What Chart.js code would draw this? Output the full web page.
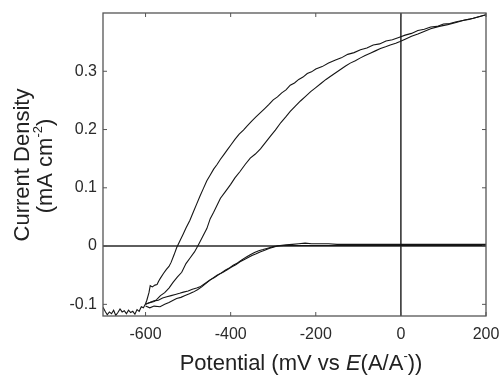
<!DOCTYPE html>
<html>
<head>
<meta charset="utf-8">
<script src="https://cdn.jsdelivr.net/npm/chart.js@4"></script>
<style>
  html, body { margin: 0; padding: 0; background: #fff; }
  #wrap { width: 503px; height: 376px; }
</style>
</head>
<body>
<div id="wrap"><canvas id="cvChart" width="503" height="376"></canvas></div>
<script>
// tick labels
const xTicks = [-600, -400, -200, 0, 200];
const yTicks = [-0.1, 0, 0.1, 0.2, 0.3];

// outer branch of the upper loop (with the noisy baseline at the far left)
const u1Potential = [-700, -695, -690, -685, -680, -675, -670, -665, -660, -655, -650, -645, -640, -635, -630, -625, -620, -615, -610, -605,
  -600, -597, -592, -589, -584, -578, -573, -569, -565, -558, -551, -545, -540, -533, -527, -520, -512, -505, -496, -488, -480, -472, -464,
  -456, -448, -440, -432, -424, -416, -408, -400, -390, -380, -370, -360, -350, -340, -330, -320, -310, -300, -290, -280, -270, -260, -250,
  -240, -230, -220, -210, -200, -185, -170, -155, -140, -125, -110, -95, -80, -65, -50, -35, -20, -5, 10, 25, 40, 55, 70, 85, 100,
  115, 130, 145, 160, 175, 190, 200];
const u1Current = [-0.105, -0.112, -0.118, -0.113, -0.116, -0.110, -0.119, -0.114, -0.108, -0.113, -0.111, -0.116, -0.110, -0.114, -0.112, -0.117, -0.109, -0.112, -0.104, -0.106,
  -0.099, -0.093, -0.080, -0.068, -0.070, -0.067, -0.066, -0.060, -0.055, -0.047, -0.040, -0.035, -0.028, -0.015, -0.003, 0.008, 0.020, 0.031, 0.044, 0.058, 0.072, 0.086, 0.099,
  0.112, 0.122, 0.132, 0.140, 0.149, 0.157, 0.165, 0.173, 0.183, 0.192, 0.199, 0.207, 0.215, 0.222, 0.229, 0.236, 0.243, 0.251, 0.256, 0.263, 0.268, 0.276, 0.280,
  0.286, 0.290, 0.296, 0.299, 0.304, 0.308, 0.314, 0.319, 0.323, 0.329, 0.332, 0.337, 0.340, 0.345, 0.347, 0.352, 0.354, 0.358, 0.362, 0.365, 0.370, 0.372, 0.376, 0.377, 0.381,
  0.382, 0.385, 0.387, 0.389, 0.392, 0.395, 0.397];

// inner branch of the upper loop
const u2Potential = [-600, -590, -580, -574, -565, -555, -545, -535, -525, -515, -505, -495, -485, -476, -466, -456, -448, -440, -432, -424,
  -412, -400, -390, -378, -366, -354, -342, -330, -318, -306, -295, -282, -270, -260, -248, -236, -224, -212, -200, -188, -176, -166,
  -154, -142, -130, -119, -107, -95, -84, -72, -60, -48, -36, -25, -12, -2, 10, 25, 40, 53, 70, 90, 110, 132, 150, 170, 185, 200];
const u2Current = [-0.100, -0.097, -0.095, -0.092, -0.085, -0.080, -0.072, -0.062, -0.053, -0.045, -0.030, -0.020, -0.010, 0.002, 0.016, 0.030, 0.047, 0.058, 0.070, 0.082,
  0.094, 0.106, 0.117, 0.128, 0.140, 0.151, 0.158, 0.167, 0.178, 0.189, 0.199, 0.212, 0.222, 0.231, 0.240, 0.249, 0.257, 0.265, 0.272, 0.279, 0.286, 0.291,
  0.297, 0.303, 0.309, 0.314, 0.318, 0.323, 0.327, 0.331, 0.335, 0.339, 0.342, 0.345, 0.348, 0.351, 0.355, 0.360, 0.364, 0.368, 0.373, 0.377, 0.380, 0.384, 0.388, 0.391, 0.394, 0.397];

// lower loop, upper branch
const l1Potential = [-600, -590, -580, -570, -560, -550, -540, -530, -520, -511, -500, -490, -480, -472, -462, -452, -442, -432, -422, -412,
  -402, -394, -384, -374, -364, -354, -344, -334, -324, -315, -300, -284, -270, -255, -240, -225, -210, -190, -170, -150, -120, -90,
  -60, -30, 0, 50, 100, 150, 200];
const l1Current = [-0.100, -0.097, -0.094, -0.093, -0.089, -0.087, -0.085, -0.083, -0.081, -0.079, -0.077, -0.074, -0.072, -0.070, -0.065, -0.060, -0.055, -0.050, -0.046, -0.041,
  -0.037, -0.033, -0.029, -0.024, -0.019, -0.015, -0.011, -0.008, -0.006, -0.004, -0.001, 0.001, 0.002, 0.003, 0.004, 0.005, 0.004, 0.004, 0.004, 0.003, 0.003, 0.003,
  0.003, 0.003, 0.003, 0.003, 0.003, 0.003, 0.003];

// lower loop, lower branch
const l2Potential = [-600, -590, -580, -566, -555, -545, -535, -527, -517, -507, -497, -488, -478, -468, -458, -448, -438, -428, -418, -409,
  -398, -388, -378, -370, -360, -350, -340, -331, -320, -310, -300, -290, -275, -250, -200, -100, 0, 100, 200];
const l2Current = [-0.103, -0.106, -0.103, -0.104, -0.100, -0.097, -0.093, -0.090, -0.088, -0.085, -0.082, -0.079, -0.075, -0.070, -0.064, -0.058, -0.054, -0.049, -0.045, -0.041,
  -0.036, -0.032, -0.027, -0.024, -0.020, -0.016, -0.013, -0.010, -0.007, -0.004, -0.002, 0.000, 0.001, 0.001, 0.001, 0.001, 0.001, 0.001, 0.001];

const FONT = '"Liberation Sans", Arial, sans-serif';

function pairs(xs, ys) {
  return xs.map((x, i) => ({ x: x, y: ys[i] }));
}

function curve(xs, ys) {
  return {
    data: pairs(xs, ys),
    showLine: true,
    borderColor: '#151515',
    borderWidth: 1.1,
    pointRadius: 0,
    tension: 0
  };
}

// zero lines, frame with inward ticks, and axis titles
const framePlugin = {
  id: 'framePlugin',
  beforeDatasetsDraw(chart) {
    const { ctx, chartArea: a, scales } = chart;
    const x0 = scales.x.getPixelForValue(0);
    const y0 = scales.y.getPixelForValue(0);
    ctx.save();
    ctx.strokeStyle = '#2a2a2a';
    ctx.lineWidth = 1.5;
    ctx.beginPath();
    ctx.moveTo(a.left, y0);
    ctx.lineTo(a.right, y0);
    ctx.moveTo(x0, a.top);
    ctx.lineTo(x0, a.bottom);
    ctx.stroke();
    ctx.restore();
  },
  afterDatasetsDraw(chart) {
    const { ctx, chartArea: a, scales } = chart;
    ctx.save();
    ctx.strokeStyle = '#555';
    ctx.lineWidth = 1.3;
    ctx.strokeRect(a.left, a.top, a.right - a.left, a.bottom - a.top);
    ctx.lineWidth = 1;
    ctx.beginPath();
    xTicks.forEach(v => {
      const px = scales.x.getPixelForValue(v);
      ctx.moveTo(px, a.bottom);
      ctx.lineTo(px, a.bottom - 4);
      ctx.moveTo(px, a.top);
      ctx.lineTo(px, a.top + 4);
    });
    yTicks.forEach(v => {
      const py = scales.y.getPixelForValue(v);
      ctx.moveTo(a.left, py);
      ctx.lineTo(a.left + 4, py);
      ctx.moveTo(a.right, py);
      ctx.lineTo(a.right - 4, py);
    });
    ctx.stroke();
    ctx.restore();
  },
  afterDraw(chart) {
    const ctx = chart.ctx;
    ctx.save();
    ctx.fillStyle = '#222';
    ctx.textBaseline = 'alphabetic';

    // x title, with italic E and superscript minus
    const parts = [
      { t: 'Potential (mV vs ', f: '22px ' + FONT, dy: 0 },
      { t: 'E', f: 'italic 22px ' + FONT, dy: 0 },
      { t: '(A/A', f: '22px ' + FONT, dy: 0 },
      { t: '-', f: '13px ' + FONT, dy: -10 },
      { t: '))', f: '22px ' + FONT, dy: 0 }
    ];
    let total = 0;
    parts.forEach(p => { ctx.font = p.f; p.w = ctx.measureText(p.t).width; total += p.w; });
    let x = 301 - total / 2;
    parts.forEach(p => {
      ctx.font = p.f;
      ctx.fillText(p.t, x, 370 + p.dy);
      x += p.w;
    });

    // y title, two lines rotated
    ctx.save();
    ctx.translate(29, 165);
    ctx.rotate(-Math.PI / 2);
    ctx.textAlign = 'center';
    ctx.font = '22px ' + FONT;
    ctx.fillText('Current Density', 0, 0);
    ctx.restore();

    ctx.save();
    ctx.translate(52, 166);
    ctx.rotate(-Math.PI / 2);
    const yparts = [
      { t: '(mA cm', f: '22px ' + FONT, dy: 0 },
      { t: '-2', f: '13px ' + FONT, dy: -10 },
      { t: ')', f: '22px ' + FONT, dy: 0 }
    ];
    let yt = 0;
    yparts.forEach(p => { ctx.font = p.f; p.w = ctx.measureText(p.t).width; yt += p.w; });
    let yx = -yt / 2;
    yparts.forEach(p => {
      ctx.font = p.f;
      ctx.fillText(p.t, yx, p.dy);
      yx += p.w;
    });
    ctx.restore();
    ctx.restore();
  }
};

const ctx = document.getElementById('cvChart').getContext('2d');
new Chart(ctx, {
  type: 'scatter',
  data: {
    datasets: [
      curve(u1Potential, u1Current),
      curve(u2Potential, u2Current),
      curve(l1Potential, l1Current),
      curve(l2Potential, l2Current)
    ]
  },
  options: {
    responsive: false,
    animation: false,
    layout: { padding: { left: 0, top: 13, right: 17, bottom: 0 } },
    plugins: {
      legend: { display: false },
      tooltip: { enabled: false }
    },
    scales: {
      x: {
        type: 'linear',
        min: -700,
        max: 200,
        grid: { display: false, drawTicks: false },
        border: { display: false },
        afterBuildTicks: scale => { scale.ticks = xTicks.map(v => ({ value: v })); },
        afterFit: scale => {
          scale.height = 60;
          scale.paddingLeft = 0;
          scale.paddingRight = 0;
        },
        ticks: {
          padding: 9,
          color: '#2a2a2a',
          font: { family: FONT, size: 16 },
          maxRotation: 0,
          callback: v => String(v)
        }
      },
      y: {
        type: 'linear',
        min: -0.12,
        max: 0.4,
        grid: { display: false, drawTicks: false },
        border: { display: false },
        afterBuildTicks: scale => { scale.ticks = yTicks.map(v => ({ value: v })); },
        afterFit: scale => {
          scale.width = 103;
          scale.paddingTop = 0;
          scale.paddingBottom = 0;
        },
        ticks: {
          padding: 6,
          color: '#2a2a2a',
          font: { family: FONT, size: 16 },
          callback: v => (v === 0 ? '0' : String(Math.round(v * 10) / 10))
        }
      }
    }
  },
  plugins: [framePlugin]
});
</script>
</body>
</html>
